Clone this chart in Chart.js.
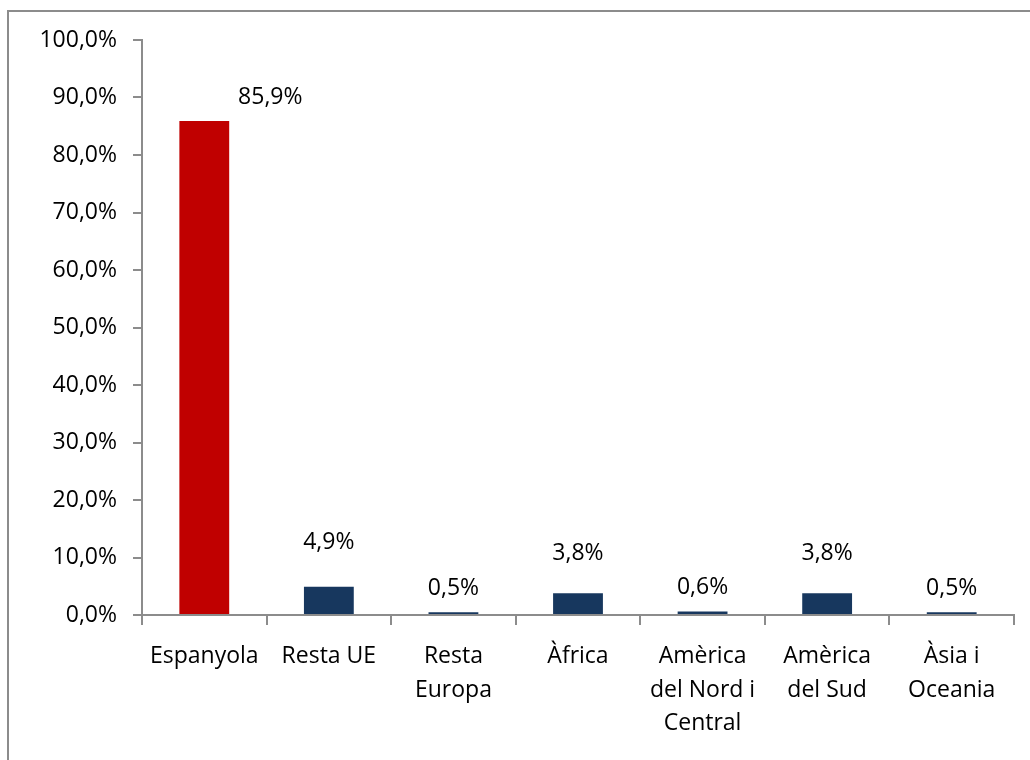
<!DOCTYPE html>
<html>
<head>
<meta charset="utf-8">
<script src="https://cdn.jsdelivr.net/npm/chart.js@4"></script>
<style>
  html, body { margin: 0; padding: 0; background: #fff; }
  #wrap { position: relative; width: 1030px; height: 760px; overflow: hidden; }
  #frame {
    position: absolute; left: 7px; top: 10px; width: 1100px; height: 800px;
    border-left: 2px solid #8c8c8c; border-top: 2px solid #8c8c8c;
  }
  canvas { position: absolute; left: 0; top: 0; }
</style>
</head>
<body>
<div id="wrap">
  <div id="frame"></div>
  <canvas id="chart" width="1030" height="760"></canvas>
</div>
<script>
const categories = [
  'Espanyola',
  'Resta UE',
  ['Resta', 'Europa'],
  'Àfrica',
  ['Amèrica', 'del Nord i', 'Central'],
  ['Amèrica', 'del Sud'],
  ['Àsia i', 'Oceania']
];
const values = [85.9, 4.9, 0.5, 3.8, 0.6, 3.8, 0.5];
const yTicks = [0, 10, 20, 30, 40, 50, 60, 70, 80, 90, 100];

const barColors = ['#c00000', '#17375e', '#17375e', '#17375e', '#17375e', '#17375e', '#17375e'];
const fontFamily = '"Open Sans", "Noto Sans", sans-serif';
const fontSize = 23;

const fmt = v => v.toFixed(1).replace('.', ',') + '%';

// Excel moved a few labels by hand, so shift each one a bit
const valueLabels = {
  id: 'valueLabels',
  afterDatasetsDraw (chart, args, opts) {
    const ctx = chart.ctx;
    const meta = chart.getDatasetMeta(0);
    ctx.save();
    ctx.font = fontSize + 'px ' + fontFamily;
    ctx.fillStyle = '#000';
    ctx.textAlign = 'center';
    ctx.textBaseline = 'middle';
    meta.data.forEach((bar, i) => {
      const shift = opts.shift[i];
      ctx.fillText(fmt(values[i]), bar.x + shift[0], bar.y - shift[1]);
    });
    ctx.restore();
  }
};

new Chart(document.getElementById('chart'), {
  type: 'bar',
  data: {
    labels: categories,
    datasets: [{
      data: values,
      backgroundColor: barColors,
      borderWidth: 0,
      barPercentage: 0.4,
      categoryPercentage: 1
    }]
  },
  options: {
    responsive: false,
    animation: false,
    layout: { padding: { left: 0, top: 40, right: 16, bottom: 0 } },
    plugins: {
      legend: { display: false },
      tooltip: { enabled: false },
      valueLabels: {
        shift: [[66, 24], [0, 44], [0, 24], [0, 40], [0, 24], [0, 40], [0, 24]]
      }
    },
    scales: {
      x: {
        afterFit (scale) { scale.height = 145; },
        grid: {
          offset: true,
          drawOnChartArea: false,
          tickLength: 10,
          color: '#8c8c8c',
          lineWidth: 2
        },
        border: { color: '#8c8c8c', width: 2 },
        ticks: {
          color: '#000',
          padding: 15,
          maxRotation: 0,
          autoSkip: false,
          font: { family: fontFamily, size: fontSize, lineHeight: 1.45 }
        }
      },
      y: {
        min: 0,
        max: 100,
        afterFit (scale) { scale.width = 142; },
        afterBuildTicks (scale) { scale.ticks = yTicks.map(v => ({ value: v })); },
        grid: {
          drawOnChartArea: false,
          tickLength: 9,
          color: '#8c8c8c',
          lineWidth: 2
        },
        border: { color: '#8c8c8c', width: 2 },
        ticks: {
          color: '#000',
          padding: 16,
          callback: v => fmt(v),
          font: { family: fontFamily, size: fontSize }
        }
      }
    }
  },
  plugins: [valueLabels]
});
</script>
</body>
</html>
